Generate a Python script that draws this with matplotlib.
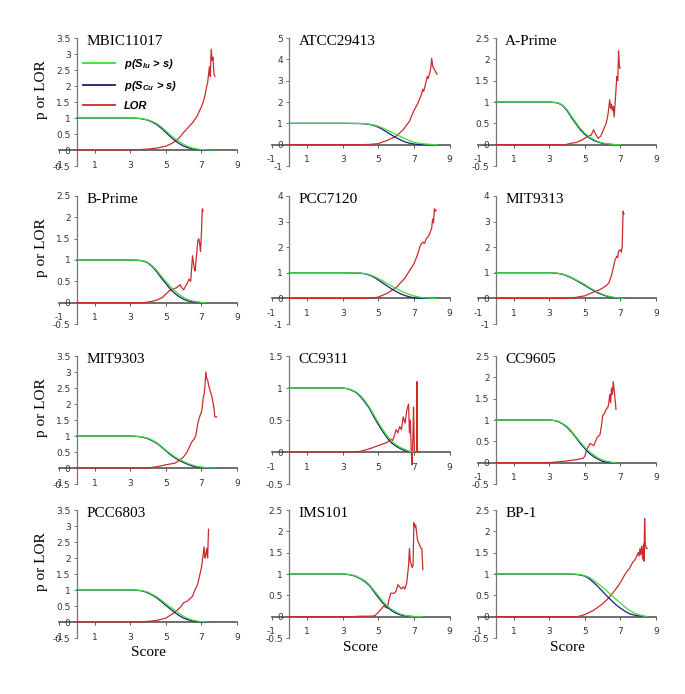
import numpy as np
import matplotlib
matplotlib.use("Agg")
import matplotlib.pyplot as plt
from matplotlib import font_manager

# ---------------- data ----------------
titles = ['MBIC11017', 'ATCC29413', 'A-Prime', 'B-Prime', 'PCC7120', 'MIT9313',
          'MIT9303', 'CC9311', 'CC9605', 'PCC6803', 'IMS101', 'BP-1']
y_min = [-0.5, -1, -0.5, -0.5, -1, -1, -0.5, -0.5, -0.5, -0.5, -0.5, -0.5]
y_max = [3.5, 5, 2.5, 2.5, 4, 4, 3.5, 1.5, 2.5, 3.5, 2.5, 2.5]
y_step = [0.5, 1, 0.5, 0.5, 1, 1, 0.5, 0.5, 0.5, 0.5, 0.5, 0.5]
x_ticks = [-1, 1, 3, 5, 7, 9]

p_x = {
    'MBIC11017': [0, 1, 2, 3, 3.25, 3.5, 3.75, 4, 4.25, 4.5, 4.75, 5, 5.25, 5.5, 5.75, 6, 6.25, 6.5, 6.75, 7, 7.25, 7.5, 7.75],
    'ATCC29413': [0, 1, 2, 3, 4, 4.25, 4.5, 4.75, 5, 5.25, 5.5, 5.75, 6, 6.25, 6.5, 6.75, 7, 7.25, 7.5, 7.75, 8, 8.25, 8.35],
    'A-Prime': [0, 1, 2, 3, 3.25, 3.5, 3.75, 4, 4.25, 4.5, 4.75, 5, 5.25, 5.5, 5.75, 6, 6.25, 6.5, 6.75, 7],
    'B-Prime': [0, 1, 2, 3, 3.5, 3.75, 4, 4.25, 4.5, 4.75, 5, 5.25, 5.5, 5.75, 6, 6.25, 6.5, 6.75, 7, 7.2],
    'PCC7120': [0, 1, 2, 3, 4, 4.25, 4.5, 4.75, 5, 5.25, 5.5, 5.75, 6, 6.25, 6.5, 6.75, 7, 7.25, 7.5, 7.75, 8, 8.25],
    'MIT9313': [0, 1, 2, 3, 3.25, 3.5, 3.75, 4, 4.25, 4.5, 4.75, 5, 5.25, 5.5, 5.75, 6, 6.25, 6.5, 6.75, 7, 7.2],
    'MIT9303': [0, 1, 2, 3, 3.25, 3.5, 3.75, 4, 4.25, 4.5, 4.75, 5, 5.25, 5.5, 5.75, 6, 6.25, 6.5, 6.75, 7, 7.25, 7.5, 7.8],
    'CC9311': [0, 1, 2, 3, 3.25, 3.5, 3.75, 4, 4.25, 4.5, 4.75, 5, 5.25, 5.5, 5.75, 6, 6.25, 6.5, 6.75, 7],
    'CC9605': [0, 1, 2, 3, 3.25, 3.5, 3.75, 4, 4.25, 4.5, 4.75, 5, 5.25, 5.5, 5.75, 6, 6.25, 6.5, 6.7],
    'PCC6803': [0, 1, 2, 3, 3.25, 3.5, 3.75, 4, 4.25, 4.5, 4.75, 5, 5.25, 5.5, 5.75, 6, 6.25, 6.5, 6.75, 7, 7.35],
    'IMS101': [0, 1, 2, 3, 3.25, 3.5, 3.75, 4, 4.25, 4.5, 4.75, 5, 5.25, 5.5, 5.75, 6, 6.25, 6.5, 6.75, 7, 7.5],
    'BP-1': [0, 1, 2, 3, 4, 4.5, 4.75, 5, 5.25, 5.5, 5.75, 6, 6.25, 6.5, 6.75, 7, 7.25, 7.5, 7.75, 8, 8.25, 8.5],
}
# p(S_lu > s)  (green)
p_lu = {
    'MBIC11017': [1, 1, 1, 1, 0.995, 0.99, 0.97, 0.94, 0.89, 0.82, 0.72, 0.6, 0.47, 0.36, 0.26, 0.18, 0.11, 0.06, 0.03, 0.015, 0.005, 0, 0],
    'ATCC29413': [1, 1, 1, 1, 0.995, 0.98, 0.96, 0.92, 0.86, 0.78, 0.68, 0.58, 0.48, 0.38, 0.28, 0.19, 0.12, 0.07, 0.04, 0.02, 0.01, 0, 0],
    'A-Prime': [1, 1, 1, 1, 0.995, 0.98, 0.93, 0.82, 0.67, 0.52, 0.38, 0.27, 0.18, 0.12, 0.07, 0.04, 0.02, 0.01, 0, 0],
    'B-Prime': [1, 1, 1, 1, 0.995, 0.98, 0.94, 0.86, 0.75, 0.62, 0.5, 0.38, 0.28, 0.19, 0.12, 0.07, 0.04, 0.02, 0.005, 0],
    'PCC7120': [1, 1, 1, 1, 0.99, 0.97, 0.93, 0.86, 0.78, 0.68, 0.58, 0.48, 0.39, 0.3, 0.22, 0.15, 0.1, 0.06, 0.03, 0.015, 0.005, 0],
    'MIT9313': [1, 1, 1, 1, 0.995, 0.98, 0.95, 0.9, 0.82, 0.73, 0.64, 0.54, 0.43, 0.33, 0.24, 0.16, 0.1, 0.06, 0.03, 0.01, 0],
    'MIT9303': [1, 1, 1, 1, 0.995, 0.985, 0.965, 0.93, 0.87, 0.79, 0.68, 0.56, 0.45, 0.35, 0.27, 0.2, 0.14, 0.09, 0.05, 0.03, 0.015, 0.005, 0],
    'CC9311': [1, 1, 1, 1, 0.99, 0.97, 0.94, 0.88, 0.8, 0.7, 0.58, 0.46, 0.35, 0.25, 0.17, 0.11, 0.07, 0.04, 0.01, 0],
    'CC9605': [1, 1, 1, 1, 0.99, 0.97, 0.92, 0.85, 0.74, 0.61, 0.48, 0.36, 0.26, 0.18, 0.11, 0.06, 0.03, 0.01, 0],
    'PCC6803': [1, 1, 1, 1, 1, 0.99, 0.97, 0.93, 0.86, 0.78, 0.68, 0.57, 0.47, 0.37, 0.27, 0.18, 0.11, 0.06, 0.03, 0.01, 0],
    'IMS101': [1, 1, 1, 1, 0.995, 0.98, 0.95, 0.9, 0.84, 0.75, 0.62, 0.49, 0.36, 0.25, 0.17, 0.11, 0.06, 0.03, 0.015, 0.005, 0],
    'BP-1': [1, 1, 1, 1, 1, 0.995, 0.985, 0.96, 0.92, 0.85, 0.77, 0.69, 0.6, 0.5, 0.41, 0.32, 0.23, 0.15, 0.09, 0.05, 0.02, 0],
}
# p(S_Cu > s)  (blue)
p_cu = {
    'MBIC11017': [1, 1, 1, 1, 0.995, 0.985, 0.965, 0.93, 0.87, 0.79, 0.68, 0.55, 0.42, 0.3, 0.2, 0.12, 0.07, 0.035, 0.015, 0.005, 0, 0, 0],
    'ATCC29413': [1, 1, 1, 1, 0.99, 0.975, 0.95, 0.9, 0.82, 0.71, 0.58, 0.45, 0.33, 0.22, 0.13, 0.07, 0.03, 0.01, 0, 0, 0, 0, 0],
    'A-Prime': [1, 1, 1, 1, 0.99, 0.975, 0.92, 0.8, 0.64, 0.49, 0.35, 0.24, 0.16, 0.1, 0.06, 0.03, 0.015, 0.005, 0, 0],
    'B-Prime': [1, 1, 1, 1, 0.99, 0.975, 0.93, 0.84, 0.72, 0.58, 0.45, 0.32, 0.22, 0.14, 0.08, 0.04, 0.02, 0.01, 0, 0],
    'PCC7120': [1, 1, 1, 1, 0.985, 0.96, 0.91, 0.83, 0.72, 0.6, 0.48, 0.37, 0.27, 0.18, 0.11, 0.06, 0.03, 0.01, 0, 0, 0, 0],
    'MIT9313': [1, 1, 1, 1, 0.99, 0.975, 0.94, 0.88, 0.8, 0.71, 0.61, 0.51, 0.4, 0.3, 0.21, 0.14, 0.08, 0.04, 0.02, 0.005, 0],
    'MIT9303': [1, 1, 1, 1, 0.99, 0.98, 0.955, 0.915, 0.85, 0.77, 0.66, 0.54, 0.42, 0.32, 0.24, 0.17, 0.11, 0.06, 0.03, 0.015, 0.005, 0, 0],
    'CC9311': [1, 1, 1, 1, 0.99, 0.965, 0.93, 0.865, 0.78, 0.68, 0.55, 0.43, 0.32, 0.22, 0.14, 0.09, 0.05, 0.02, 0.005, 0],
    'CC9605': [1, 1, 1, 1, 0.99, 0.965, 0.91, 0.83, 0.72, 0.59, 0.45, 0.33, 0.22, 0.14, 0.08, 0.03, 0.01, 0, 0],
    'PCC6803': [1, 1, 1, 1, 0.995, 0.985, 0.96, 0.91, 0.84, 0.75, 0.64, 0.52, 0.41, 0.3, 0.2, 0.12, 0.07, 0.03, 0.01, 0, 0],
    'IMS101': [1, 1, 1, 1, 0.99, 0.975, 0.94, 0.89, 0.82, 0.73, 0.59, 0.45, 0.32, 0.22, 0.14, 0.08, 0.04, 0.02, 0.01, 0, 0],
    'BP-1': [1, 1, 1, 1, 1, 0.99, 0.975, 0.95, 0.89, 0.8, 0.7, 0.59, 0.48, 0.38, 0.28, 0.2, 0.13, 0.07, 0.04, 0.02, 0.01, 0],
}
# LOR (red)
lor_x = {
    'MBIC11017': [0, 3, 3.5, 4, 4.5, 5, 5.25, 5.5, 5.75, 6, 6.25, 6.5, 6.75, 7, 7.1, 7.2, 7.3, 7.35, 7.4, 7.45, 7.5, 7.55, 7.6, 7.65, 7.7, 7.75],
    'ATCC29413': [0, 4, 4.5, 5, 5.5, 6, 6.4, 6.75, 7, 7.2, 7.4, 7.5, 7.55, 7.7, 7.75, 7.8, 7.9, 7.95, 8, 8.05, 8.1, 8.2, 8.3],
    'A-Prime': [0, 3.9, 4.2, 4.5, 4.8, 5, 5.2, 5.35, 5.5, 5.6, 5.75, 5.9, 6, 6.1, 6.2, 6.3, 6.4, 6.45, 6.5, 6.55, 6.6, 6.65, 6.7, 6.8, 6.85, 6.9, 6.95, 7],
    'B-Prime': [0, 3.8, 4.2, 4.5, 4.8, 5, 5.2, 5.4, 5.6, 5.8, 5.9, 6, 6.1, 6.2, 6.3, 6.4, 6.5, 6.6, 6.65, 6.7, 6.8, 6.85, 6.9, 6.95, 7, 7.05, 7.1],
    'PCC7120': [0, 4.3, 4.8, 5, 5.5, 6, 6.5, 7, 7.2, 7.35, 7.5, 7.6, 7.7, 7.8, 7.9, 8, 8.05, 8.1, 8.15, 8.2, 8.25],
    'MIT9313': [0, 4, 4.5, 5, 5.5, 5.8, 6, 6.2, 6.35, 6.5, 6.6, 6.7, 6.8, 6.85, 6.9, 7, 7.05, 7.1, 7.15, 7.2],
    'MIT9303': [0, 4, 4.5, 5, 5.5, 5.8, 6, 6.2, 6.4, 6.5, 6.6, 6.7, 6.8, 6.9, 7, 7.05, 7.1, 7.15, 7.2, 7.25, 7.3, 7.35, 7.4, 7.5, 7.6, 7.7, 7.75, 7.85],
    'CC9311': [0, 3.5, 4, 4.5, 5, 5.3, 5.5, 5.7, 5.8, 5.9, 6, 6.1, 6.2, 6.3, 6.4, 6.5, 6.6, 6.7, 6.75, 6.8, 6.85, 6.9, 6.95, 6.98, 7.03, 7.1, 7.15, 7.17, 7.19, 7.3],
    'CC9605': [0, 3, 3.5, 4, 4.5, 4.9, 5.0, 5.1, 5.3, 5.5, 5.6, 5.7, 5.85, 5.95, 6.0, 6.1, 6.2, 6.3, 6.35, 6.4, 6.45, 6.5, 6.55, 6.6, 6.65, 6.7, 6.75],
    'PCC6803': [0, 3.5, 4, 4.5, 5, 5.5, 5.8, 6, 6.2, 6.3, 6.5, 6.6, 6.8, 6.9, 7, 7.05, 7.1, 7.15, 7.2, 7.25, 7.3, 7.35, 7.4],
    'IMS101': [0, 3.5, 4, 4.5, 4.8, 5, 5.2, 5.3, 5.5, 5.6, 5.7, 5.9, 6, 6.1, 6.2, 6.3, 6.4, 6.5, 6.6, 6.7, 6.75, 6.8, 6.9, 6.95, 7, 7.05, 7.1, 7.2, 7.3, 7.4, 7.45, 7.5],
    'BP-1': [0, 4.5, 4.7, 5, 5.5, 6, 6.25, 6.5, 6.75, 7, 7.2, 7.4, 7.5, 7.6, 7.7, 7.8, 7.9, 8, 8.05, 8.1, 8.15, 8.2, 8.25, 8.3, 8.33, 8.36, 8.4, 8.45, 8.5],
}
lor_y = {
    'MBIC11017': [0, 0, 0.01, 0.03, 0.06, 0.12, 0.18, 0.26, 0.38, 0.55, 0.7, 0.85, 1.05, 1.35, 1.5, 1.7, 2.0, 2.1, 2.35, 2.6, 2.3, 3.15, 2.8, 2.9, 2.4, 2.3],
    'ATCC29413': [0, 0, 0.01, 0.05, 0.2, 0.4, 0.7, 1.1, 1.6, 1.9, 2.3, 2.6, 2.5, 3.0, 3.2, 3.1, 3.4, 3.6, 4.05, 3.7, 3.6, 3.45, 3.3],
    'A-Prime': [0, 0, 0.03, 0.05, 0.1, 0.15, 0.2, 0.22, 0.35, 0.25, 0.15, 0.2, 0.3, 0.4, 0.5, 0.7, 1.05, 0.85, 0.95, 0.8, 0.9, 0.65, 0.95, 1.6, 1.5, 2.2, 1.8, 1.8],
    'B-Prime': [0, 0, 0.03, 0.06, 0.12, 0.2, 0.28, 0.32, 0.35, 0.42, 0.35, 0.3, 0.38, 0.45, 0.55, 0.5, 1.1, 0.8, 0.74, 1.0, 1.45, 1.5, 1.4, 1.2, 1.6, 2.2, 2.15],
    'PCC7120': [0, 0, 0.03, 0.05, 0.2, 0.42, 0.8, 1.35, 1.7, 2.05, 2.2, 2.15, 2.35, 2.4, 2.55, 2.75, 3.1, 2.95, 3.5, 3.4, 3.45],
    'MIT9313': [0, 0, 0.04, 0.1, 0.25, 0.33, 0.4, 0.5, 0.6, 0.9, 1.2, 1.5, 1.65, 1.6, 1.85, 1.9, 1.8, 2.0, 3.4, 3.3],
    'MIT9303': [0, 0, 0.04, 0.1, 0.15, 0.25, 0.35, 0.5, 0.75, 0.85, 0.9, 1.05, 1.4, 1.6, 1.75, 1.9, 2.2, 2.3, 2.55, 3.0, 2.8, 2.75, 2.6, 2.4, 2.2, 1.9, 1.6, 1.6],
    'CC9311': [0, 0, 0.01, 0.05, 0.1, 0.13, 0.15, 0.2, 0.18, 0.25, 0.35, 0.3, 0.4, 0.35, 0.55, 0.45, 0.65, 0.75, 0.3, 0.5, 0.0, -0.2, 0.3, 0.7, 0.0, 0.0, 0.0, 1.1, 0.0, 0.0],
    'CC9605': [0, 0, 0.02, 0.04, 0.07, 0.1, 0.15, 0.3, 0.45, 0.4, 0.5, 0.6, 0.65, 0.9, 1.1, 1.15, 1.25, 1.3, 1.4, 1.6, 1.4, 1.75, 1.6, 1.9, 1.7, 1.5, 1.25],
    'PCC6803': [0, 0, 0.02, 0.05, 0.12, 0.3, 0.45, 0.6, 0.65, 0.7, 0.8, 0.95, 1.2, 1.45, 1.7, 1.9, 2.1, 2.35, 2.0, 2.1, 2.3, 2.0, 2.9],
    'IMS101': [0, 0, 0.01, 0.01, 0.02, 0.1, 0.2, 0.25, 0.2, 0.4, 0.55, 0.55, 0.6, 0.75, 0.7, 0.65, 0.7, 0.65, 0.8, 1.2, 1.6, 1.3, 1.15, 1.2, 2.2, 2.1, 2.15, 1.8, 1.7, 1.6, 1.6, 1.1],
    'BP-1': [0, 0, 0.01, 0.05, 0.15, 0.3, 0.4, 0.52, 0.65, 0.8, 0.95, 1.08, 1.12, 1.2, 1.28, 1.32, 1.4, 1.5, 1.42, 1.6, 1.45, 1.65, 1.35, 1.7, 1.3, 2.3, 1.7, 1.6, 1.6],
}
legend_labels = ['p(S$_{lu}$ > s)', 'p(S$_{Cu}$ > s)', 'LOR']

# ---------------- style ----------------
installed = {f.name for f in font_manager.fontManager.ttflist}
tick_font = 'Liberation Sans Narrow' if 'Liberation Sans Narrow' in installed else 'DejaVu Sans'
serif = 'Liberation Serif'
plt.rcParams['mathtext.fontset'] = 'custom'
plt.rcParams['mathtext.it'] = 'Liberation Sans:bold:italic'
plt.rcParams['mathtext.rm'] = 'Liberation Sans:bold:italic'
plt.rcParams['mathtext.default'] = 'it'

GREEN = '#3cdc3c'
BLUE = '#1c1c78'
RED = '#cc2b2b'

W, H = 685, 694
fig = plt.figure(figsize=(W / 100, H / 100), dpi=100)
fig.patch.set_facecolor('white')

col_left = [59, 271.5, 478]   # pixel x of x=-1
col_w = 178
row_top = [38, 196, 356, 510]
row_h = 128

for i, name in enumerate(titles):
    r, c = divmod(i, 3)
    left = col_left[c] / W
    bottom = 1 - (row_top[r] + row_h) / H
    ax = fig.add_axes([left, bottom, col_w / W, row_h / H])
    ax.set_facecolor('none')
    ax.plot(lor_x[name], lor_y[name], color=RED, lw=0.9, zorder=3, label=legend_labels[2])
    ax.plot(p_x[name], p_cu[name], color=BLUE, lw=0.9, zorder=3, label=legend_labels[1])
    ax.plot(p_x[name], p_lu[name], color=GREEN, lw=0.9, zorder=3, label=legend_labels[0])
    ax.set_xlim(-1, 9)
    ax.set_ylim(y_min[i], y_max[i])
    for s in ('top', 'right'):
        ax.spines[s].set_visible(False)
    ax.spines['left'].set_position(('data', 0))
    ax.spines['bottom'].set_position(('data', 0))
    ax.spines['left'].set_color('#777777')
    ax.spines['bottom'].set_color('#555555')
    ax.spines['left'].set_linewidth(0.9)
    ax.spines['bottom'].set_linewidth(1.2)
    ax.spines['left'].set_zorder(1)
    ax.spines['bottom'].set_zorder(1)
    yt = np.arange(y_min[i], y_max[i] + y_step[i] / 2, y_step[i])
    ax.set_yticks(yt)
    ax.set_yticklabels(['%g' % v for v in yt])
    ax.set_xticks(x_ticks)
    ax.set_xticklabels(['%g' % v for v in x_ticks])
    ax.tick_params(axis='y', direction='out', length=2, width=0.7, color='#777777',
                   pad=2.5, labelsize=6.5, labelcolor='#333333')
    ax.tick_params(axis='x', direction='out', length=2.5, width=0.7, color='#555555',
                   pad=5.2, labelsize=6.5, labelcolor='#333333')
    for lab in ax.get_xticklabels() + ax.get_yticklabels():
        lab.set_fontfamily(tick_font)
    ax.text(0.152, 0.945, name, transform=ax.transAxes, ha='left', va='baseline',
            fontsize=11, family=serif, color='black')
    if c == 0:
        ax.text(-0.096, 0.6, 'p or LOR', transform=ax.transAxes, rotation=90,
                ha='center', va='center', fontsize=11, family=serif)
    if r == 3:
        ax.set_xlabel('Score', fontsize=11, family=serif, labelpad=3)
    if i == 0:
        h, l = ax.get_legend_handles_labels()
        order = [2, 1, 0]
        leg = ax.legend([h[k] for k in order], [l[k] for k in order],
                        loc='upper left', bbox_to_anchor=(0.135, 0.85),
                        frameon=False, borderpad=0, borderaxespad=0,
                        handlelength=2.9, handletextpad=0.8, labelspacing=0.7,
                        prop={'family': 'Liberation Sans', 'weight': 'bold',
                              'style': 'italic', 'size': 8})
        for ln in leg.get_lines():
            ln.set_linewidth(1.3)

fig.savefig('out.png', dpi=100, facecolor='white')
